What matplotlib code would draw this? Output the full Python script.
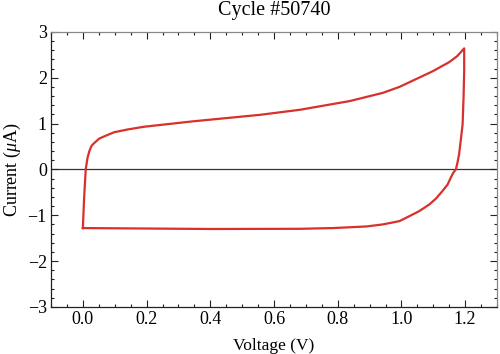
import matplotlib
matplotlib.use("Agg")
import matplotlib.pyplot as plt
from matplotlib.ticker import MultipleLocator

plt.rcParams['font.family'] = ['Liberation Serif', 'DejaVu Serif']
plt.rcParams['mathtext.fontset'] = 'custom'
plt.rcParams['mathtext.it'] = 'Liberation Serif:italic'
plt.rcParams['mathtext.rm'] = 'Liberation Serif'

# Forward scan (upper branch)
fwd_v = [0.0, 0.004, 0.009, 0.0146, 0.02, 0.027, 0.035, 0.051, 0.067, 0.098,
         0.14, 0.192, 0.244, 0.348, 0.452, 0.556, 0.681, 0.8375, 0.942, 0.994,
         1.046, 1.098, 1.15, 1.175, 1.197]
fwd_i = [-1.28, -0.62, 0.0, 0.25, 0.39, 0.51, 0.57, 0.67, 0.72, 0.81,
         0.87, 0.93, 0.97, 1.05, 1.12, 1.19, 1.30, 1.49, 1.67, 1.80,
         1.97, 2.14, 2.34, 2.47, 2.64]

# Reverse scan (lower branch)
rev_v = [1.197, 1.197, 1.195, 1.192, 1.186, 1.181, 1.176, 1.171, 1.163, 1.155,
         1.145, 1.129, 1.108, 1.0875, 1.056, 1.025, 0.994, 0.942, 0.890,
         0.785, 0.681, 0.4, 0.2, 0.0]
rev_i = [2.64, 2.14, 1.56, 0.98, 0.62, 0.33, 0.15, 0.0, -0.07, -0.18,
         -0.33, -0.47, -0.64, -0.765, -0.91, -1.02, -1.128, -1.20, -1.245,
         -1.28, -1.296, -1.30, -1.29, -1.28]

xticks = [0.0, 0.2, 0.4, 0.6, 0.8, 1.0, 1.2]
yticks = [-3, -2, -1, 0, 1, 2, 3]

fig = plt.figure(figsize=(5.0, 3.54), dpi=100)
ax = fig.add_axes([0.102, 0.133, 0.892, 0.777])

ax.axhline(0, color='#333333', lw=0.9, zorder=1)
ax.plot(fwd_v + rev_v, fwd_i + rev_i, color='#d8302a', lw=1.6, zorder=2,
        solid_joinstyle='round')

ax.set_xlim(-0.1, 1.3)
ax.set_ylim(-3, 3)
ax.set_xticks(xticks)
ax.set_xticklabels([f"{t:.1f}" for t in xticks])
ax.set_yticks(yticks)
ax.set_yticklabels([str(t).replace('-', '\u2212') for t in yticks])
ax.xaxis.set_minor_locator(MultipleLocator(0.05))
ax.yaxis.set_minor_locator(MultipleLocator(0.2))
ax.tick_params(which='both', direction='in', top=True, right=True,
               labeltop=False, labelright=False, color='#222222', width=0.8)
ax.tick_params(which='major', length=5, labelsize=13, pad=3)
ax.tick_params(which='minor', length=2.5)

for s in ['left', 'bottom']:
    ax.spines[s].set_color('#222222')
    ax.spines[s].set_linewidth(0.9)
for s in ['top', 'right']:
    ax.spines[s].set_color('#888888')
    ax.spines[s].set_linewidth(0.9)

ax.set_title('Cycle #50740', fontsize=14.5, pad=12)
ax.set_xlabel('Voltage (V)', fontsize=12.5, labelpad=7)
ax.set_ylabel(r'Current ($\mu$A)', fontsize=13, labelpad=3)

fig.savefig('out.png', dpi=100)
